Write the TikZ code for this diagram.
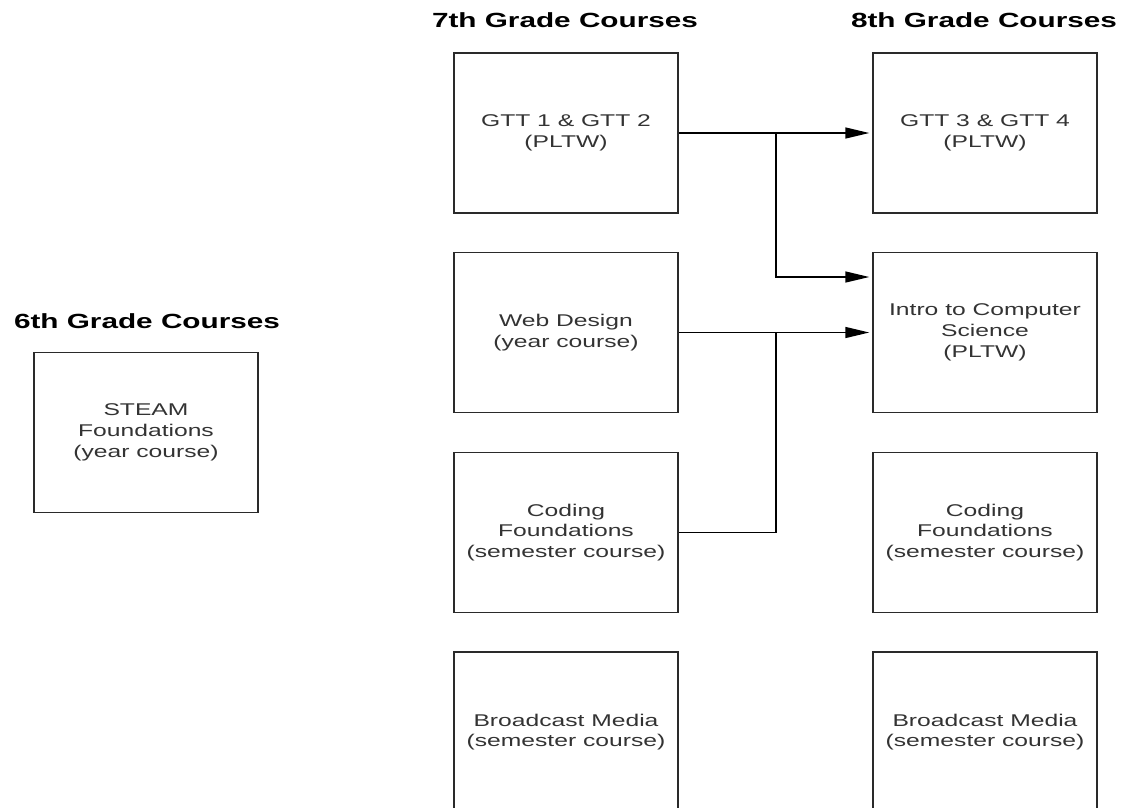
\documentclass[tikz,border=0pt]{standalone}
\usepackage{fontspec}
\setmainfont{Liberation Sans}
\newfontfamily\bodyfont[FakeStretch=1.45]{Liberation Sans}
\newfontfamily\headfont[FakeStretch=1.45]{Liberation Sans Bold}
\usetikzlibrary{arrows.meta}
\definecolor{txtgray}{HTML}{333333}
\definecolor{linegray}{HTML}{2A2A2A}
\tikzset{
  course/.style={draw=linegray, line width=1.5pt, minimum width=224pt, minimum height=160pt,
    align=center, text=txtgray, inner sep=0pt,
    font=\bodyfont\fontsize{17}{20.7}\selectfont},
  header/.style={font=\headfont\fontsize{20.5}{24}\selectfont, text=black, inner sep=0pt},
  link/.style={draw=black, line width=1.5pt},
  arrowlink/.style={link, -{Triangle[length=24pt,width=11pt]}, shorten >=3pt}
}
\begin{document}
\begin{tikzpicture}[x=1pt,y=-1pt]
\clip (0,0) rectangle (1125,807);
\fill[white] (0,0) rectangle (1125,807);

% headers
\node[header] (h6) at (147,321) {6th Grade Courses};
\node[header] (h7) at (565,20) {7th Grade Courses};
\node[header] (h8) at (984,20) {8th Grade Courses};

% 6th grade
\node[course] (steam) at (146,432.5) {STEAM\\Foundations\\(year course)};

% 7th grade
\node[course] (gtt7) at (566,133) {GTT 1 \& GTT 2\\(PLTW)};
\node[course] (web7) at (566,332.5) {Web Design\\(year course)};
\node[course] (cod7) at (566,532.5) {Coding\\Foundations\\(semester course)};
\node[course] (bro7) at (566,732) {Broadcast Media\\(semester course)};

% 8th grade
\node[course] (gtt8) at (985,133) {GTT 3 \& GTT 4\\(PLTW)};
\node[course] (intro) at (985,332.5) {Intro to Computer\\Science\\(PLTW)};
\node[course] (cod8) at (985,532.5) {Coding\\Foundations\\(semester course)};
\node[course] (bro8) at (985,732) {Broadcast Media\\(semester course)};

% junctions
\coordinate (j1) at (776,133);
\coordinate (j2) at (776,332.5);

% connectors
\draw[arrowlink] (gtt7.east) -- (gtt8.west);
\draw[arrowlink] (j1) |- ([yshift=55.5pt]intro.west);
\draw[arrowlink] (web7.east) -- (intro.west);
\draw[link] (cod7.east) -| (j2);
\end{tikzpicture}
\end{document}
